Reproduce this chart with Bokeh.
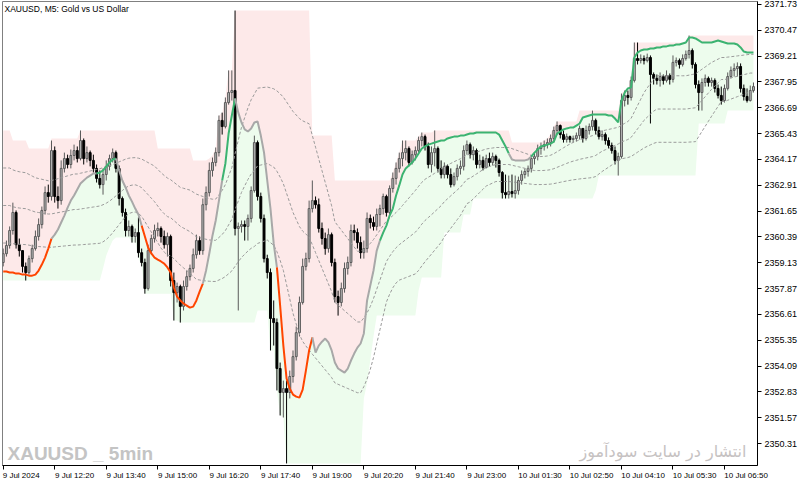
import numpy as np
import pandas as pd
from bokeh.plotting import figure
from bokeh.models import Range1d, FixedTicker, LinearAxis, Label, PrintfTickFormatter, ColumnDataSource
from bokeh.embed import file_html
from bokeh.resources import INLINE

# ---------------- data (XAUUSD M5) ----------------
first_open = 2359.14
close = [
    2359.57, 2359.97, 2360.70, 2361.58, 2360.01, 2359.72, 2358.95, 2358.65, 2359.33, 2359.82,
    2360.41, 2360.99, 2361.68, 2362.55, 2362.36, 2364.60, 2362.36, 2362.16, 2363.73, 2364.21,
    2363.92, 2364.36, 2364.60, 2364.21, 2365.09, 2364.21, 2364.50, 2364.12, 2363.73, 2363.24,
    2362.94, 2363.43, 2363.83, 2364.21, 2364.50, 2363.73, 2362.26, 2361.58, 2360.70, 2360.90,
    2360.41, 2360.60, 2359.62, 2359.14, 2357.87, 2359.72, 2360.31, 2360.70, 2360.80, 2360.41,
    2360.01, 2360.41, 2358.26, 2357.67, 2357.97, 2357.00, 2357.97, 2358.45, 2358.85, 2359.52,
    2360.21, 2359.72, 2361.96, 2362.55, 2363.63, 2364.02, 2364.50, 2366.07, 2365.77, 2366.94,
    2367.43, 2367.53, 2360.80, 2360.90, 2360.99, 2360.90, 2361.29, 2362.65, 2364.99, 2362.36,
    2361.29, 2359.33, 2358.65, 2356.41, 2356.21, 2353.97, 2352.80, 2352.99, 2352.80, 2353.58,
    2354.55, 2355.72, 2357.19, 2358.95, 2359.33, 2361.77, 2362.16, 2361.96, 2360.80, 2360.31,
    2359.82, 2360.50, 2359.14, 2357.48, 2357.19, 2357.87, 2358.85, 2359.14, 2360.70, 2360.60,
    2360.11, 2359.62, 2359.82, 2361.29, 2361.09, 2360.90, 2361.48, 2361.77, 2362.36, 2361.58,
    2362.75, 2363.24, 2363.73, 2364.21, 2364.50, 2364.70, 2364.02, 2364.40, 2364.60, 2365.09,
    2365.28, 2364.80, 2363.92, 2364.50, 2364.70, 2363.73, 2363.43, 2363.83, 2363.43, 2362.94,
    2363.33, 2363.73, 2363.83, 2364.60, 2364.89, 2364.40, 2364.60, 2363.92, 2364.12, 2363.77,
    2364.21, 2364.02, 2364.31, 2364.12, 2363.53, 2362.55, 2362.45, 2362.60, 2362.50, 2362.65,
    2363.14, 2363.43, 2363.58, 2363.73, 2364.21, 2364.31, 2364.70, 2364.80, 2364.89, 2364.99,
    2365.19, 2365.58, 2365.82, 2365.38, 2365.14, 2365.28, 2365.14, 2365.19, 2365.33, 2365.68,
    2365.19, 2365.58, 2365.77, 2366.07, 2365.58, 2365.28, 2365.38, 2365.09, 2364.85, 2364.60,
    2364.12, 2364.31, 2367.04, 2367.29, 2367.19, 2368.02, 2369.09, 2368.99, 2369.09, 2368.99,
    2369.14, 2368.31, 2368.12, 2368.02, 2368.21, 2368.02, 2368.26, 2368.07, 2368.90, 2368.99,
    2368.80, 2369.09, 2369.29, 2369.48, 2368.80, 2367.82, 2367.43, 2367.92, 2368.12, 2367.92,
    2368.02, 2367.63, 2367.29, 2367.04, 2367.63, 2368.21, 2368.51, 2368.60, 2368.70, 2367.63,
    2367.24, 2367.04, 2367.53, 2367.72,
]
high = [
    2359.82, 2360.21, 2360.90, 2362.06, 2361.68, 2360.31, 2359.72, 2359.14, 2359.48, 2360.01,
    2360.70, 2361.29, 2361.87, 2362.85, 2362.94, 2365.09, 2364.80, 2362.85, 2364.12, 2364.50,
    2364.40, 2364.65, 2364.89, 2364.80, 2365.58, 2365.19, 2364.80, 2364.60, 2364.40, 2363.92,
    2363.63, 2363.73, 2364.12, 2364.40, 2364.70, 2364.60, 2363.87, 2362.36, 2361.77, 2361.19,
    2360.99, 2360.80, 2361.34, 2359.82, 2359.33, 2360.01, 2360.50, 2360.99, 2361.09, 2360.90,
    2360.70, 2360.60, 2360.50, 2358.65, 2358.16, 2358.06, 2358.26, 2358.75, 2359.04, 2359.82,
    2360.50, 2360.41, 2362.26, 2362.85, 2364.02, 2364.26, 2364.75, 2366.31, 2366.45, 2367.19,
    2368.51, 2368.51, 2371.43, 2361.09, 2361.19, 2361.19, 2361.48, 2362.85, 2365.33, 2365.09,
    2362.55, 2361.48, 2359.52, 2358.85, 2357.29, 2356.41, 2354.26, 2353.38, 2353.38, 2353.87,
    2354.85, 2356.02, 2357.48, 2359.33, 2359.62, 2362.16, 2363.14, 2362.36, 2362.26, 2361.09,
    2360.60, 2360.80, 2360.60, 2359.33, 2357.77, 2358.16, 2359.14, 2359.43, 2360.99, 2360.99,
    2360.80, 2360.41, 2360.21, 2361.58, 2361.48, 2361.38, 2361.77, 2361.96, 2362.50, 2362.45,
    2362.90, 2363.53, 2364.02, 2364.50, 2365.09, 2365.09, 2364.80, 2364.60, 2364.80, 2365.28,
    2365.48, 2365.38, 2364.99, 2364.80, 2365.58, 2364.80, 2364.12, 2364.02, 2363.92, 2363.73,
    2363.53, 2363.92, 2364.12, 2364.85, 2365.09, 2364.99, 2364.80, 2364.70, 2364.40, 2364.31,
    2364.40, 2364.50, 2364.50, 2364.40, 2364.21, 2363.60, 2363.43, 2363.38, 2363.43, 2363.38,
    2363.33, 2363.63, 2363.73, 2363.87, 2364.36, 2364.50, 2364.89, 2364.99, 2365.09, 2365.19,
    2365.38, 2365.77, 2366.02, 2365.87, 2365.58, 2365.43, 2365.33, 2365.33, 2365.48, 2365.82,
    2365.68, 2365.82, 2365.92, 2366.55, 2366.16, 2365.77, 2365.58, 2365.48, 2365.24, 2364.99,
    2364.80, 2364.50, 2367.38, 2367.53, 2367.53, 2368.21, 2369.87, 2369.87, 2369.29, 2369.24,
    2369.33, 2369.24, 2368.41, 2368.31, 2368.41, 2368.31, 2368.51, 2368.36, 2369.24, 2369.14,
    2369.09, 2369.29, 2369.48, 2370.21, 2369.58, 2368.90, 2368.02, 2368.12, 2368.31, 2368.21,
    2368.16, 2368.12, 2367.82, 2367.72, 2367.82, 2368.41, 2368.70, 2368.85, 2368.90, 2368.85,
    2367.82, 2367.63, 2367.77, 2367.92,
]
low = [
    2358.95, 2359.43, 2359.82, 2360.50, 2359.82, 2359.43, 2358.65, 2358.26, 2358.55, 2359.14,
    2359.72, 2360.21, 2360.80, 2361.48, 2362.06, 2362.16, 2362.06, 2361.77, 2361.96, 2363.53,
    2363.73, 2363.73, 2364.12, 2364.02, 2364.12, 2363.92, 2364.02, 2363.83, 2363.53, 2363.04,
    2362.75, 2362.45, 2363.14, 2363.63, 2364.02, 2363.53, 2361.92, 2361.38, 2360.41, 2360.41,
    2360.11, 2360.11, 2359.38, 2358.95, 2357.62, 2357.77, 2359.52, 2360.11, 2360.41, 2360.11,
    2359.82, 2359.43, 2357.97, 2356.31, 2357.19, 2356.21, 2356.80, 2357.77, 2358.26, 2358.65,
    2359.33, 2359.52, 2359.52, 2361.68, 2362.36, 2363.33, 2363.83, 2364.31, 2365.38, 2365.68,
    2366.84, 2367.04, 2360.46, 2356.80, 2360.60, 2360.21, 2360.21, 2361.09, 2362.55, 2362.16,
    2361.09, 2359.14, 2358.36, 2354.85, 2355.09, 2352.90, 2351.68, 2351.58, 2349.34, 2352.51,
    2353.28, 2354.36, 2355.53, 2357.09, 2358.75, 2359.14, 2361.58, 2361.77, 2360.60, 2360.01,
    2359.52, 2359.62, 2358.95, 2357.19, 2356.55, 2357.00, 2357.67, 2358.55, 2358.95, 2360.21,
    2359.82, 2359.33, 2359.33, 2359.62, 2360.80, 2360.70, 2360.70, 2360.90, 2361.48, 2361.38,
    2361.48, 2362.55, 2362.94, 2363.53, 2363.83, 2364.12, 2363.83, 2363.92, 2364.12, 2364.50,
    2364.80, 2364.60, 2363.73, 2363.53, 2363.83, 2363.53, 2363.24, 2363.24, 2363.24, 2362.80,
    2362.85, 2363.14, 2363.43, 2363.63, 2364.40, 2364.21, 2364.12, 2363.73, 2363.73, 2363.63,
    2363.73, 2363.83, 2363.87, 2363.77, 2363.33, 2362.26, 2362.26, 2362.26, 2362.31, 2362.26,
    2362.45, 2362.94, 2363.24, 2363.33, 2363.53, 2363.92, 2364.12, 2364.40, 2364.60, 2364.70,
    2364.80, 2364.99, 2365.38, 2365.19, 2364.99, 2364.99, 2364.99, 2364.99, 2365.04, 2365.14,
    2364.99, 2365.09, 2365.38, 2365.58, 2365.38, 2365.14, 2365.09, 2364.89, 2364.70, 2364.45,
    2363.92, 2363.38, 2364.21, 2366.75, 2366.84, 2367.04, 2367.92, 2368.80, 2368.85, 2368.80,
    2368.90, 2365.92, 2367.82, 2367.82, 2367.72, 2367.82, 2367.92, 2367.82, 2367.92, 2368.70,
    2368.60, 2368.70, 2368.99, 2369.09, 2368.60, 2367.63, 2366.55, 2366.55, 2367.72, 2367.72,
    2367.72, 2367.43, 2367.14, 2366.84, 2366.94, 2367.53, 2368.12, 2368.21, 2368.21, 2367.43,
    2367.04, 2366.94, 2366.99, 2367.43,
]

# indicator: channel top / bottom (bar index where a new level starts, level)
upper_steps = [
    (0, 2365.58), (3, 2365.09), (8, 2364.70), (15, 2365.19), (24, 2365.58), (48, 2364.70),
    (59, 2364.12), (64, 2364.21), (65, 2364.36), (66, 2364.75), (67, 2366.31), (68, 2366.45),
    (69, 2367.19), (70, 2368.51), (72, 2371.43), (96, 2365.33), (103, 2363.14), (121, 2363.53),
    (122, 2364.02), (123, 2364.50), (124, 2365.09), (129, 2365.28), (130, 2365.48), (134, 2365.58),
    (158, 2364.99), (168, 2365.09), (169, 2365.19), (170, 2365.38), (171, 2365.77), (172, 2366.02),
    (179, 2366.55), (192, 2367.38), (193, 2367.53), (195, 2368.21), (196, 2369.87), (213, 2370.21),
]
lower_steps = [
    (0, 2358.26), (31, 2358.85), (32, 2359.48), (33, 2359.87), (34, 2360.21), (35, 2360.36),
    (40, 2360.11), (42, 2359.38), (43, 2358.95), (44, 2357.62), (53, 2356.31), (55, 2356.21),
    (79, 2356.80), (83, 2354.85), (85, 2352.90), (86, 2351.68), (87, 2351.58), (88, 2349.34),
    (112, 2352.51), (113, 2353.28), (114, 2354.36), (115, 2355.53), (116, 2356.55), (129, 2357.77),
    (130, 2358.41), (137, 2360.60), (143, 2361.48), (146, 2362.26), (184, 2362.65), (185, 2363.38),
    (216, 2365.92), (225, 2366.55),
]
# indicator: main trailing line
mid = [
    2358.70, 2358.70, 2358.65, 2358.65, 2358.60, 2358.60, 2358.55, 2358.55, 2358.50, 2358.50,
    2358.55, 2358.75, 2359.04, 2359.38, 2359.82, 2360.31, 2360.50, 2360.75, 2361.09, 2361.43,
    2361.82, 2362.16, 2362.41, 2362.70, 2362.99, 2363.14, 2363.28, 2363.38, 2363.48, 2363.48,
    2363.53, 2363.63, 2363.82, 2364.02, 2364.16, 2364.21, 2363.63, 2363.14, 2362.80, 2362.41,
    2362.11, 2361.77, 2361.48, 2360.94, 2360.41, 2359.87, 2359.58, 2359.38, 2359.28, 2359.19,
    2359.09, 2358.90, 2358.65, 2357.92, 2357.48, 2357.29, 2357.14, 2357.04, 2356.94, 2356.99,
    2357.29, 2357.72, 2358.11, 2358.75, 2359.58, 2360.46, 2361.19, 2362.16, 2363.14, 2363.97,
    2365.43, 2366.31, 2367.14, 2366.45, 2365.97, 2365.63, 2365.53, 2365.68, 2365.97, 2366.02,
    2365.33, 2364.50, 2363.14, 2361.77, 2360.07, 2358.90, 2357.04, 2355.09, 2353.48, 2352.99,
    2352.70, 2352.60, 2352.55, 2352.94, 2353.87, 2354.85, 2355.48, 2354.75, 2355.09, 2355.28,
    2355.43, 2355.24, 2354.85, 2354.26, 2353.97, 2353.87, 2353.77, 2353.97, 2354.36, 2354.70,
    2354.99, 2355.19, 2355.68, 2357.29, 2358.02, 2358.75, 2359.72, 2360.21, 2360.60, 2360.94,
    2361.43, 2361.77, 2362.41, 2362.90, 2363.43, 2363.73, 2363.87, 2364.02, 2364.21, 2364.46,
    2364.70, 2364.80, 2364.89, 2364.94, 2364.99, 2365.04, 2365.09, 2365.09, 2365.19, 2365.24,
    2365.28, 2365.28, 2365.33, 2365.33, 2365.38, 2365.43, 2365.43, 2365.48, 2365.48, 2365.48,
    2365.48, 2365.48, 2365.48, 2365.48, 2365.38, 2365.09, 2364.80, 2364.46, 2364.16, 2364.12,
    2364.12, 2364.12, 2364.12, 2364.16, 2364.31, 2364.50, 2364.65, 2364.80, 2364.85, 2364.89,
    2364.94, 2365.04, 2365.43, 2365.53, 2365.63, 2365.68, 2365.72, 2365.72, 2365.82, 2365.92,
    2366.21, 2366.26, 2366.31, 2366.36, 2366.36, 2366.36, 2366.36, 2366.36, 2366.31, 2366.31,
    2366.16, 2365.97, 2367.04, 2367.43, 2367.63, 2367.68, 2369.14, 2369.38, 2369.48, 2369.53,
    2369.53, 2369.58, 2369.58, 2369.63, 2369.63, 2369.68, 2369.68, 2369.72, 2369.72, 2369.77,
    2369.77, 2369.82, 2369.87, 2370.11, 2370.11, 2370.07, 2369.97, 2369.87, 2369.87, 2369.87,
    2369.87, 2369.92, 2369.97, 2369.92, 2369.87, 2369.82, 2369.82, 2369.82, 2369.77, 2369.63,
    2369.43, 2369.38, 2369.38, 2369.38,
]
# state of the main line: (state, first bar, last bar)
trend_runs = [
    ("dn", 0, 15), ("nt", 15, 29), ("up", 29, 35), ("nt", 35, 43), ("dn", 43, 62),
    ("nt", 62, 68), ("up", 68, 72), ("nt", 72, 85), ("dn", 85, 96), ("nt", 96, 117),
    ("up", 117, 157), ("nt", 157, 164), ("up", 164, 233),
]
level_fractions = [0.25, 0.5, 0.75]

x_tick_bars = [0, 16, 32, 48, 64, 80, 96, 112, 128, 144, 160, 176, 192, 208, 224]
x_tick_labels = ["9 Jul 2024", "9 Jul 12:20", "9 Jul 13:40", "9 Jul 15:00", "9 Jul 16:20",
                 "9 Jul 17:40", "9 Jul 19:00", "9 Jul 20:20", "9 Jul 21:40", "9 Jul 23:00",
                 "10 Jul 01:30", "10 Jul 02:50", "10 Jul 04:10", "10 Jul 05:30", "10 Jul 06:50"]
y_ticks = [2350.31, 2351.57, 2352.83, 2354.09, 2355.35, 2356.61, 2357.87, 2359.13, 2360.39,
           2361.65, 2362.91, 2364.17, 2365.43, 2366.69, 2367.95, 2369.21, 2370.47, 2371.73]

# ---------------- derived ----------------
n = len(close)
idx = np.arange(n)
opens = [first_open] + close[:-1]


def expand(steps, count):
    out, j = [], 0
    for i in range(count):
        while j + 1 < len(steps) and steps[j + 1][0] <= i:
            j += 1
        out.append(steps[j][1])
    return np.array(out)


upper = expand(upper_steps, n)
lower = expand(lower_steps, n)
mid_a = np.array(mid)
levels = [pd.Series(lower + f * (upper - lower)).rolling(8, min_periods=1).mean().values
          for f in level_fractions]

o = np.array(opens); c = np.array(close)
bull = c >= o
src = ColumnDataSource(dict(
    x=idx, high=high, low=low,
    top=np.maximum(o, c), bottom=np.minimum(o, c),
    fill=np.where(bull, "#b8b8b8", "#000000"),
    line=np.where(bull, "#5a5a5a", "#000000"),
))

# ---------------- figure ----------------
PX_PER_BAR = 3.22
p = figure(frame_width=755, frame_height=464,
           x_range=Range1d(-0.22, 234.25), y_range=Range1d(2349.24, 2371.87),
           output_backend="svg", toolbar_location=None,
           y_axis_location="right", x_axis_location=None,
           min_border_left=2, min_border_top=1, min_border_right=0, min_border_bottom=0,
           background_fill_color="white", border_fill_color="white")
p.grid.visible = False
p.outline_line_color = "#808080"

ya = p.yaxis[0]
ya.ticker = FixedTicker(ticks=y_ticks)
ya.formatter = PrintfTickFormatter(format="%.2f")
ya.major_tick_out = 4
ya.major_tick_in = 0
ya.minor_tick_out = 0
ya.minor_tick_in = 0
ya.axis_line_color = "black"
ya.major_tick_line_color = "black"
ya.major_label_text_font = "Liberation Sans"
ya.major_label_text_font_size = "9px"
ya.major_label_text_color = "black"
ya.major_label_standoff = 3

ax_ticks = LinearAxis(ticker=FixedTicker(ticks=x_tick_bars), major_tick_out=4, major_tick_in=0,
                      minor_tick_out=0, minor_tick_in=0, axis_line_color="black",
                      major_tick_line_color="black", major_label_text_color=None,
                      major_label_text_font_size="1px", major_label_standoff=0)
label_pos = [round(b + len(t) * 3.6 / 2 / PX_PER_BAR, 2) for b, t in zip(x_tick_bars, x_tick_labels)]
ax_labels = LinearAxis(ticker=FixedTicker(ticks=label_pos),
                       major_label_overrides={pp: t for pp, t in zip(label_pos, x_tick_labels)},
                       axis_line_color=None, major_tick_line_color=None, minor_tick_line_color=None,
                       major_tick_out=0, major_tick_in=0, minor_tick_out=0, minor_tick_in=0,
                       major_label_text_font="Liberation Sans", major_label_text_font_size="8px",
                       major_label_text_color="black", major_label_standoff=1)
p.add_layout(ax_ticks, "below")
p.add_layout(ax_labels, "below")

# channel fills
p.varea(x=idx, y1=mid_a, y2=upper, fill_color="#fde9e9")
p.varea(x=idx, y1=lower, y2=mid_a, fill_color="#edfced")

# candles
p.segment(x0="x", y0="high", x1="x", y1="low", line_color="line", line_width=1, source=src)
p.vbar(x="x", width=0.6, top="top", bottom="bottom", fill_color="fill", line_color="line",
       line_width=1, source=src)

# dashed levels
for lv in levels:
    p.line(idx, lv, line_color="#9a9a9a", line_dash="3 2", line_width=1)

# main line coloured by state
state_color = {"up": "#3cb371", "dn": "#ff4500", "nt": "#a8a8a8"}
for st, a, b in trend_runs:
    p.line(idx[a:b + 1], mid_a[a:b + 1], line_color=state_color[st], line_width=2)

# texts
p.add_layout(Label(x=2, y=457, x_units="screen", y_units="screen",
                   text="XAUUSD, M5:  Gold vs US Dollar", text_font="Liberation Sans",
                   text_font_size="8.5px", text_color="black", text_baseline="middle"))
p.add_layout(Label(x=5, y=12, x_units="screen", y_units="screen", text="XAUUSD _ 5min",
                   text_font="Liberation Sans", text_font_style="bold", text_font_size="19px",
                   text_color="#c4c4c4", text_baseline="alphabetic"))
p.add_layout(Label(x=744, y=14, x_units="screen", y_units="screen",
                   text="انتشار در سایت سودآموز", text_font="DejaVu Sans",
                   text_font_size="16px", text_color="#c6c2c2", text_align="right",
                   text_baseline="alphabetic"))

open("out.html", "w").write(file_html(p, INLINE))
